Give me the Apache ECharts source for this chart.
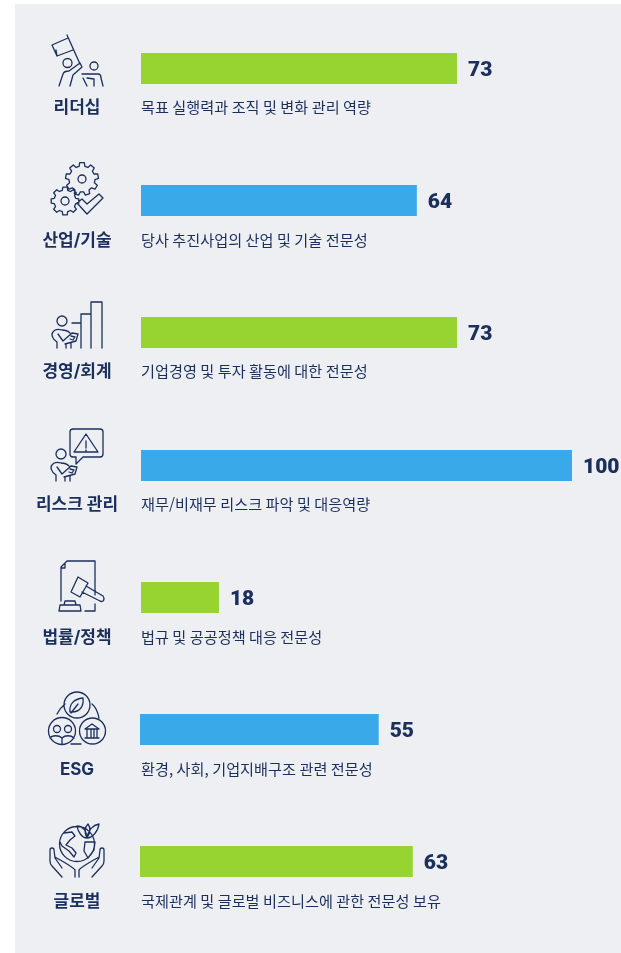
<!DOCTYPE html>
<html lang="ko">
<head>
<meta charset="utf-8">
<style>html,body{margin:0;padding:0;background:#fff;overflow:hidden}#c{width:621px;height:953px}</style>
<script src="https://cdn.jsdelivr.net/npm/echarts@6/dist/echarts.min.js"></script>
</head>
<body>
<div id="c"></div>
<script>
const categories = ['리더십','산업/기술','경영/회계','리스크 관리','법률/정책','ESG','글로벌'];
const descriptions = [
  '목표 실행력과 조직 및 변화 관리 역량',
  '당사 추진사업의 산업 및 기술 전문성',
  '기업경영 및 투자 활동에 대한 전문성',
  '재무/비재무 리스크 파악 및 대응역량',
  '법규 및 공공정책 대응 전문성',
  '환경, 사회, 기업지배구조 관련 전문성',
  '국제관계 및 글로벌 비즈니스에 관한 전문성 보유'
];
const values = [73,64,73,100,18,55,63];
const valueAxisTicks = [0,100];

const NAVY='#1b2f5c', GREEN='#97d432', BLUE='#3aa9e9', PANEL='#edeff3';
const barColors=[GREEN,BLUE,GREEN,BLUE,GREEN,BLUE,GREEN];
const barTops=[53,185,317,450,582,714,846];
const barLefts=[141,141,141,141,141,140,140];
const plotWidths=[433,431,433,431,433,434,433];
const textCenters=[107,240,371,504,637,769,901];
const BAR_H=31;

const chart=echarts.init(document.getElementById('c'),null,{renderer:'canvas',width:621,height:953});

const grid=[],xAxis=[],yAxis=[],series=[],graphic=[];
graphic.push({type:'rect',z:-10,silent:true,shape:{x:15,y:4,width:606,height:949},style:{fill:PANEL}});
categories.forEach((name,i)=>{
  grid.push({left:barLefts[i],top:barTops[i],width:plotWidths[i],height:BAR_H,containLabel:false});
  xAxis.push({gridIndex:i,type:'value',min:valueAxisTicks[0],max:valueAxisTicks[1],show:false});
  yAxis.push({gridIndex:i,type:'category',data:[name],show:false});
  series.push({type:'bar',xAxisIndex:i,yAxisIndex:i,data:[values[i]],barWidth:BAR_H,
    itemStyle:{color:barColors[i]},silent:true,
    label:{show:true,position:'right',distance:11,offset:[0,2],color:NAVY,fontFamily:'Roboto, sans-serif',fontWeight:900,fontSize:21}});
  graphic.push({type:'text',silent:true,x:77,y:textCenters[i]+1,style:{text:name,x:0,y:0,align:'center',verticalAlign:'middle',
    fill:NAVY,font:'700 17px Inter, "Noto Sans CJK KR"'}});
  graphic.push({type:'text',silent:true,x:141,y:textCenters[i],style:{text:descriptions[i],x:0,y:0,align:'left',verticalAlign:'middle',
    fill:NAVY,font:'400 15.2px "Noto Sans CJK KR"'}});
});

chart.setOption({animation:false,backgroundColor:'#fff',grid,xAxis,yAxis,series,graphic});

// Decorative line icons
function circle(cx,cy,r){return `M${cx-r},${cy}A${r},${r} 0 1 1 ${cx+r},${cy}A${r},${r} 0 1 1 ${cx-r},${cy}Z`;}
function gear(cx,cy,ro,ri,n,hole){
  let d='';const st=2*Math.PI/n;
  for(let k=0;k<n;k++){
    const a=k*st-Math.PI/2;
    const pts=[[ri,a-st*.32],[ro,a-st*.2],[ro,a+st*.2],[ri,a+st*.32]];
    pts.forEach((p,j)=>{const x=(cx+p[0]*Math.cos(p[1])).toFixed(1),y=(cy+p[0]*Math.sin(p[1])).toFixed(1);
      d+=(k===0&&j===0?'M':'L')+x+','+y;});
  }
  return d+'Z'+circle(cx,cy,hole);
}
function person(x,y){
  const p=(a,b)=>`${x+a},${y+b}`;
  return circle(x,y,5)
    +`M${p(-5,27)}L${p(-5,21)}C${p(-10,18)} ${p(-11,13)} ${p(-9,11)}C${p(-7,8)} ${p(-3,8)} ${p(0,9)}C${p(3,9)} ${p(6,10)} ${p(8,12)}`
    +`M${p(-4,13)}L${p(1,20)}L${p(10,12)}L${p(16,13)}L${p(14,20)}L${p(3,23)}`
    +`M${p(4,23)}L${p(4,27)}M${p(9,22)}L${p(9,27)}M${p(9,15)}L${p(13,16)}L${p(11,19)}L${p(8,18)}`;
}
const icons=[
  // leadership
  'M67,35L80,64M68,38L52,45L57,56L73,50M57,56L56,50'
  +circle(67.5,63,4.5)+circle(94,66,4)
  +'M59,86L63,74C64,71 67,71 69,71L80,63L82,67L73,75L70,86'
  +'M82,74L98,74C100,74 101,76 101,78L103,86M83,78L87,86M87,78L94,79L94,86',
  // industry / tech
  gear(82,179,16.5,13,9,4)+gear(65,201,14,11,8,4)
  +'M77,203L82,199L87,204L99,194L103,198L87,214Z',
  // management / accounting
  person(62,321)+'M72,323L81,323M81,348L81,314L91,314L91,348M91,314L91,302L102,302L102,348',
  // risk
  person(61,454)
  +'M73,429L100,429Q103,429 103,432L103,454Q103,457 100,457L83,457L76,464L76,457L73,457Q70,457 70,454L70,432Q70,429 73,429Z'
  +'M86,434L74,452L98,452Z M86,441L86,448M86,450L86,451',
  // legal
  'M67,561L95,561L95,595M67,561L61,567L61,601M65,564L65,568L62,568M85,611L95,611L95,604'
  +'M78,577L88,583L80,597L71,592Z M86,586L103,596Q105,599 103,601Q101,602 100,601L82,592'
  +'M59,611L81,611L80,605L60,605ZM64,605L65,601L75,601L76,605',
  // ESG
  circle(77,705,13)+circle(62,731,13.5)+circle(92.5,731,13)
  +'M70,712C69,704 74,699 83,698C84,706 80,712 72,712ZM71,713L78,704'
  +'M57,714Q60,708 65,704M92,704Q97,708 99,718M71,744L81,744'
  +circle(57,729,3.5)+circle(68,729,3.5)+'M50,738C52,735 59,735 62,738L62,744M62,738C65,735 71,735 74,738'
  +'M85,729L92,724L99,729ZM85,738L99,738M87,729L87,738M91,729L91,738M94,729L94,738M97,729L97,738',
  // global
  circle(77,844,17.5)
  +'M64,833L72,832L75,836L70,840L66,845L72,848L76,853L74,857L69,851L62,846L60,842'
  +'M85,842L95,842L94,850L88,858L84,851Z'
  +'M87,838C82,838 78,832 77,826C82,826 86,829 87,838ZM87,838C84,832 84,828 88,824C91,828 91,832 87,838ZM87,838C92,838 98,832 99,824C93,825 88,830 87,838Z'
  +'M62,877L52,866Q50,864 50,861L50,850Q50,848 52,848Q54,848 54,850L55,858L62,868M55,857C60,860 72,866 75,870L75,877'
  +'M92,877L102,866Q104,864 104,861L104,850Q104,848 102,848Q100,848 100,850L99,858L92,868M99,857C94,860 82,866 79,870L79,877'
];
const zr=chart.getZr();
icons.forEach(d=>{
  zr.add(echarts.graphic.makePath(d,{silent:true,z:100,style:{fill:'none',stroke:NAVY,lineWidth:1.3,lineJoin:'round',lineCap:'round'}}));
});
</script>
</body>
</html>
